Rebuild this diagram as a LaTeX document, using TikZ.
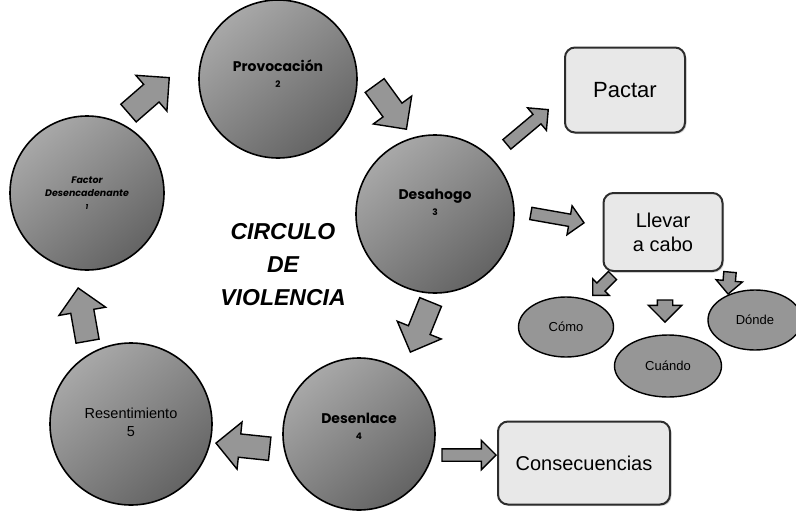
\documentclass[tikz,border=0pt]{standalone}
\usepackage{fontspec}
\setmainfont{Liberation Sans}
\newfontfamily\gothic{Poppins}
\usepackage{xcolor}
\usetikzlibrary{arrows}
\usetikzlibrary{positioning}
\usetikzlibrary{shapes.geometric,shapes.arrows,shadows}

\begin{document}
\begin{tikzpicture}[x=1pt, y=-1pt,
    stage/.style={circle, draw=black, line width=1.6pt, inner sep=0pt, minimum size=#1,
        top color=GREYTOP, bottom color=GREYBOT, shading angle=40},
    stagetext/.style={font=\gothic\bfseries\fontsize{14}{16}\selectfont, align=center},
    choice/.style={draw=BOXLINE, line width=2pt, fill=BOXFILL, rounded corners=10pt,
        inner sep=0pt, align=center, font=\fontsize{20}{24}\selectfont,
        drop shadow={opacity=0.3, shadow xshift=1.5pt, shadow yshift=-1.5pt}},
    option/.style={ellipse, draw=black, line width=1.4pt, fill=ARROWGREY, inner sep=0pt,
        font=\fontsize{13}{15}\selectfont},
    fatarrow/.style={single arrow, draw=black, line width=1.4pt, fill=ARROWGREY,
        inner sep=0pt, minimum width=0pt, minimum height=54pt, text height=22pt,
        text depth=0pt, single arrow head extend=12pt, anchor=tip},
    thinarrow/.style={fatarrow, text height=11pt, single arrow head extend=8.5pt}]
			\definecolor{GREYTOP}{RGB}{168, 168, 168}
			\definecolor{GREYBOT}{RGB}{100, 100, 100}
			\definecolor{ARROWGREY}{RGB}{150, 150, 150}
			\definecolor{BOXFILL}{RGB}{232, 232, 232}
			\definecolor{BOXLINE}{RGB}{45, 45, 45}
			\useasboundingbox (0,0) rectangle (796,512);
			% the cycle
			\node[stage=154pt] (factor)        at ( 87, 193) {};
			\node[stage=158pt] (provocacion)   at (278,  79) {};
			\node[stage=158pt] (desahogo)      at (435, 214) {};
			\node[stage=152pt] (desenlace)     at (359, 434) {};
			\node[stage=162pt] (resentimiento) at (131, 424) {};
			\node[stagetext, font=\gothic\bfseries\itshape\fontsize{9.5}{13}\selectfont] (factortext) at ([yshift=0pt]factor) {Factor\\Desencadenante\\{\fontsize{7}{9}\selectfont 1}};
			\node[stagetext] (provocaciontext)   at ([yshift=5pt]provocacion) {Provocación\\{\fontsize{9}{13}\selectfont 2}};
			\node[stagetext] (desahogotext)      at ([yshift=12pt]desahogo) {Desahogo\\{\fontsize{9}{14}\selectfont 3}};
			\node[stagetext] (desenlacetext)     at ([yshift=8pt]desenlace) {Desenlace\\{\fontsize{9}{12}\selectfont 4}};
			\node[stagetext, font=\fontsize{14.5}{18}\selectfont] (resentimientotext) at ([yshift=2pt]resentimiento) {Resentimiento\\5};
			\node[font=\bfseries\itshape\fontsize{23}{33}\selectfont, align=center] (title) at (283, 265) {CIRCULO\\DE\\VIOLENCIA};
			% outcomes
			\node[choice, minimum width=120pt, minimum height=85pt, font=\fontsize{22}{26}\selectfont] (pactar) at (625,  90) {Pactar};
			\node[choice, minimum width=119pt, minimum height=78pt] (llevar)        at (663, 232) {Llevar\\a cabo};
			\node[choice, minimum width=172pt, minimum height=83pt] (consecuencias) at (584, 463) {Consecuencias};
			\node[option, minimum width=95pt, minimum height=60pt]  (como)   at (566, 327) {Cómo};
			\node[option, minimum width=107pt, minimum height=62pt] (cuando) at (668, 366) {Cuándo};
			\node[option, minimum width=94pt, minimum height=60pt]  (donde)  at (755, 320) {Dónde};
			% block arrows
			\node[fatarrow, rotate=41]   (factor-provocacion)    at (170,  77) {};
			\node[fatarrow, rotate=-54]  (provocacion-desahogo)  at (407, 130) {};
			\node[fatarrow, rotate=-112] (desahogo-desenlace)    at (410, 353) {};
			\node[fatarrow, rotate=174]  (desenlace-resentimiento) at (215, 443) {};
			\node[fatarrow, rotate=100]  (resentimiento-factor)  at ( 78, 287) {};
			\node[thinarrow, rotate=40]  (desahogo-pactar)       at (549, 109) {};
			\node[thinarrow, rotate=-10] (desahogo-llevar)       at (585, 223) {};
			\node[thinarrow, rotate=0]   (desenlace-consecuencias) at (497, 455) {};
			\node[thinarrow, rotate=-135, minimum height=28pt, text height=10pt, single arrow head extend=6pt] (llevar-como) at (592, 296) {};
			\node[thinarrow, rotate=-90, minimum height=22pt, text height=14pt, single arrow head extend=9pt] (llevar-cuando) at (665, 323) {};
			\node[thinarrow, rotate=-95, minimum height=22pt, text height=11pt, single arrow head extend=7pt] (llevar-donde) at (728, 295) {};
		\end{tikzpicture}
\end{document}
